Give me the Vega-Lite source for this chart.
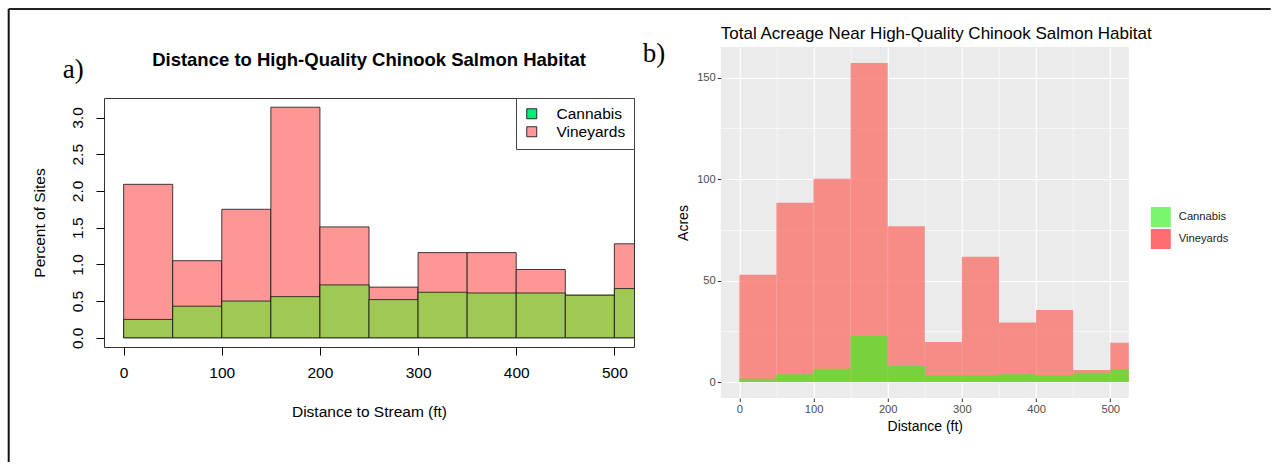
{
  "$schema": "https://vega.github.io/schema/vega-lite/v6.json",
  "background": "white",
  "padding": {"left": 7, "top": 7, "right": 0, "bottom": 0},
  "autosize": {"type": "pad"},
  "bounds": "flush",
  "center": true,
  "align": "each",
  "spacing": 86.8,
  "config": {
    "font": "Liberation Sans",
    "axis": {"labelFont": "Liberation Sans", "titleFont": "Liberation Sans"},
    "legend": {"labelFont": "Liberation Sans"}
  },
  "resolve": {
    "scale": {"x": "independent", "y": "independent", "color": "independent"},
    "legend": {"color": "independent"}
  },
  "datasets": {
    "sites": [
      {"bin_start": 0, "bin_end": 50, "crop": "Vineyards", "percent": 2.09},
      {"bin_start": 50, "bin_end": 100, "crop": "Vineyards", "percent": 1.05},
      {"bin_start": 100, "bin_end": 150, "crop": "Vineyards", "percent": 1.75},
      {"bin_start": 150, "bin_end": 200, "crop": "Vineyards", "percent": 3.14},
      {"bin_start": 200, "bin_end": 250, "crop": "Vineyards", "percent": 1.51},
      {"bin_start": 250, "bin_end": 300, "crop": "Vineyards", "percent": 0.69},
      {"bin_start": 300, "bin_end": 350, "crop": "Vineyards", "percent": 1.16},
      {"bin_start": 350, "bin_end": 400, "crop": "Vineyards", "percent": 1.16},
      {"bin_start": 400, "bin_end": 450, "crop": "Vineyards", "percent": 0.93},
      {"bin_start": 450, "bin_end": 500, "crop": "Vineyards", "percent": 0.58},
      {"bin_start": 500, "bin_end": 550, "crop": "Vineyards", "percent": 1.28},
      {"bin_start": 0, "bin_end": 50, "crop": "Cannabis", "percent": 0.25},
      {"bin_start": 50, "bin_end": 100, "crop": "Cannabis", "percent": 0.43},
      {"bin_start": 100, "bin_end": 150, "crop": "Cannabis", "percent": 0.5},
      {"bin_start": 150, "bin_end": 200, "crop": "Cannabis", "percent": 0.56},
      {"bin_start": 200, "bin_end": 250, "crop": "Cannabis", "percent": 0.72},
      {"bin_start": 250, "bin_end": 300, "crop": "Cannabis", "percent": 0.52},
      {"bin_start": 300, "bin_end": 350, "crop": "Cannabis", "percent": 0.62},
      {"bin_start": 350, "bin_end": 400, "crop": "Cannabis", "percent": 0.61},
      {"bin_start": 400, "bin_end": 450, "crop": "Cannabis", "percent": 0.61},
      {"bin_start": 450, "bin_end": 500, "crop": "Cannabis", "percent": 0.58},
      {"bin_start": 500, "bin_end": 550, "crop": "Cannabis", "percent": 0.67}
    ],
    "acres": [
      {"bin_start": 0, "bin_end": 50, "crop": "Vineyards", "acres": 52.9},
      {"bin_start": 50, "bin_end": 100, "crop": "Vineyards", "acres": 88.4},
      {"bin_start": 100, "bin_end": 150, "crop": "Vineyards", "acres": 100.2},
      {"bin_start": 150, "bin_end": 200, "crop": "Vineyards", "acres": 157.3},
      {"bin_start": 200, "bin_end": 250, "crop": "Vineyards", "acres": 76.8},
      {"bin_start": 250, "bin_end": 300, "crop": "Vineyards", "acres": 19.7},
      {"bin_start": 300, "bin_end": 350, "crop": "Vineyards", "acres": 61.8},
      {"bin_start": 350, "bin_end": 400, "crop": "Vineyards", "acres": 29.3},
      {"bin_start": 400, "bin_end": 450, "crop": "Vineyards", "acres": 35.5},
      {"bin_start": 450, "bin_end": 500, "crop": "Vineyards", "acres": 5.9},
      {"bin_start": 500, "bin_end": 550, "crop": "Vineyards", "acres": 19.4},
      {"bin_start": 0, "bin_end": 50, "crop": "Cannabis", "acres": 1.6},
      {"bin_start": 50, "bin_end": 100, "crop": "Cannabis", "acres": 3.8},
      {"bin_start": 100, "bin_end": 150, "crop": "Cannabis", "acres": 6.6},
      {"bin_start": 150, "bin_end": 200, "crop": "Cannabis", "acres": 22.7},
      {"bin_start": 200, "bin_end": 250, "crop": "Cannabis", "acres": 7.9},
      {"bin_start": 250, "bin_end": 300, "crop": "Cannabis", "acres": 3.3},
      {"bin_start": 300, "bin_end": 350, "crop": "Cannabis", "acres": 3.3},
      {"bin_start": 350, "bin_end": 400, "crop": "Cannabis", "acres": 3.8},
      {"bin_start": 400, "bin_end": 450, "crop": "Cannabis", "acres": 3.3},
      {"bin_start": 450, "bin_end": 500, "crop": "Cannabis", "acres": 4.6},
      {"bin_start": 500, "bin_end": 550, "crop": "Cannabis", "acres": 6.3}
    ]
  },
  "hconcat": [
    {
      "width": 530,
      "height": 249,
      "view": {"stroke": "#333333", "strokeWidth": 1, "fill": "white"},
      "data": {"name": "sites"},
      "layer": [
        {
          "transform": [{"filter": "datum.crop === 'Vineyards'"}],
          "mark": {"type": "rect", "fill": "#FF9696", "stroke": "#111111", "strokeWidth": 0.8, "clip": true},
          "encoding": {
            "x": {"field": "bin_start", "type": "quantitative",
              "scale": {"domain": [-20, 520], "nice": false, "zero": false},
              "axis": {"title": "Distance to Stream (ft)", "values": [0, 100, 200, 300, 400, 500], "domain": false, "grid": false,
                "tickSize": 8, "tickColor": "black", "tickWidth": 1, "labelFontSize": 15.5, "labelColor": "black", "labelPadding": 10,
                "labelFlush": false, "labelOverlap": false, "titleFontSize": 15.5, "titleFontWeight": "normal", "titleColor": "black", "titlePadding": 24}},
            "x2": {"field": "bin_end"},
            "y": {"field": "percent", "type": "quantitative",
              "scale": {"domain": [-0.1256, 3.2656], "nice": false, "zero": false},
              "axis": {"title": "Percent of Sites", "values": [0, 0.5, 1, 1.5, 2, 2.5, 3], "format": ".1f", "domain": false, "grid": false,
                "tickSize": 8, "tickColor": "black", "tickWidth": 1, "labelAngle": 270, "labelAlign": "center", "labelBaseline": "bottom",
                "labelFontSize": 15.5, "labelColor": "black", "labelPadding": 11, "labelFlush": false, "labelOverlap": false,
                "titleFontSize": 15.5, "titleFontWeight": "normal", "titleColor": "black", "titlePadding": 23}},
            "y2": {"datum": 0}
          }
        },
        {
          "transform": [{"filter": "datum.crop === 'Cannabis'"}],
          "mark": {"type": "rect", "fill": "#A0C855", "stroke": "#111111", "strokeWidth": 0.8, "clip": true},
          "encoding": {
            "x": {"field": "bin_start", "type": "quantitative"},
            "x2": {"field": "bin_end"},
            "y": {"field": "percent", "type": "quantitative"},
            "y2": {"datum": 0}
          }
        },
        {
          "mark": {"type": "square", "opacity": 0},
          "encoding": {
            "x": {"field": "bin_start", "type": "quantitative"},
            "y": {"field": "percent", "type": "quantitative"},
            "color": {"field": "crop", "type": "nominal",
              "scale": {"domain": ["Cannabis", "Vineyards"], "range": ["#00EE76", "#FF9999"]},
              "legend": {"orient": "top-right", "offset": 0, "title": null, "strokeColor": "#444444", "fillColor": "white",
                "padding": 8, "symbolType": "square", "symbolSize": 100, "symbolStrokeColor": "black", "symbolStrokeWidth": 0.8,
                "labelFontSize": 15.5, "labelColor": "black", "labelOffset": 17, "rowPadding": 1}}
          }
        },
        {
          "data": {"values": [{}]},
          "mark": {"type": "rule", "stroke": "#222222", "strokeWidth": 2},
          "encoding": {
            "x": {"datum": -117.1, "type": "quantitative"},
            "x2": {"datum": 1168.7},
            "y": {"datum": 4.4776, "type": "quantitative"}
          }
        },
        {
          "data": {"values": [{}]},
          "mark": {"type": "rule", "stroke": "#111111", "strokeWidth": 2},
          "encoding": {
            "x": {"datum": -117.1, "type": "quantitative"},
            "y": {"datum": 4.4776, "type": "quantitative"},
            "y2": {"datum": -1.6915}
          }
        },
        {
          "data": {"values": [{}]},
          "mark": {"type": "text", "text": "a)", "font": "Liberation Serif", "fontSize": 27, "align": "left", "baseline": "alphabetic", "color": "black"},
          "encoding": {
            "x": {"datum": -62.08, "type": "quantitative"},
            "y": {"datum": 3.538, "type": "quantitative"}
          }
        },
        {
          "data": {"values": [{}]},
          "mark": {"type": "text", "text": "Distance to High-Quality Chinook Salmon Habitat", "fontSize": 18.5, "fontWeight": "bold", "align": "center", "baseline": "alphabetic", "color": "black"},
          "encoding": {
            "x": {"datum": 250, "type": "quantitative"},
            "y": {"datum": 3.6973, "type": "quantitative"}
          }
        }
      ]
    },
    {
      "width": 408,
      "height": 351,
      "view": {"stroke": null, "fill": "#EBEBEB"},
      "data": {"name": "acres"},
      "layer": [
        {
          "transform": [{"filter": "datum.crop === 'Vineyards'"}],
          "mark": {"type": "rect", "fill": "#F8766D", "opacity": 0.8, "clip": true},
          "encoding": {
            "x": {"field": "bin_start", "type": "quantitative",
              "scale": {"domain": [-25, 525], "nice": false, "zero": false},
              "axis": {"title": "Distance (ft)", "values": [0, 50, 100, 150, 200, 250, 300, 350, 400, 450, 500], "domain": false,
                "grid": true, "gridColor": "white",
                "gridWidth": {"condition": {"test": "datum.value % 100 === 0", "value": 1.2}, "value": 0.6},
                "tickColor": "#333333", "tickSize": 3.5, "tickWidth": 1,
                "tickOpacity": {"condition": {"test": "datum.value % 100 === 0", "value": 1}, "value": 0},
                "labelExpr": "datum.value % 100 === 0 ? datum.label : ''",
                "labelColor": "#4D4D4D", "labelFontSize": 11.2, "labelPadding": 2, "labelFlush": false, "labelOverlap": false,
                "titleFontSize": 14, "titleFontWeight": "normal", "titleColor": "black", "titlePadding": 5}},
            "x2": {"field": "bin_end"},
            "y": {"field": "acres", "type": "quantitative",
              "scale": {"domain": [-7.865, 165.165], "nice": false, "zero": false},
              "axis": {"title": "Acres", "values": [0, 25, 50, 75, 100, 125, 150], "domain": false,
                "grid": true, "gridColor": "white",
                "gridWidth": {"condition": {"test": "datum.value % 50 === 0", "value": 1.2}, "value": 0.6},
                "tickColor": "#333333", "tickSize": 3.5, "tickWidth": 1,
                "tickOpacity": {"condition": {"test": "datum.value % 50 === 0", "value": 1}, "value": 0},
                "labelExpr": "datum.value % 50 === 0 ? datum.label : ''",
                "labelColor": "#4D4D4D", "labelFontSize": 11.2, "labelPadding": 2, "labelFlush": false, "labelOverlap": false,
                "titleFontSize": 14, "titleFontWeight": "normal", "titleColor": "black", "titlePadding": 6}},
            "y2": {"datum": 0}
          }
        },
        {
          "transform": [{"filter": "datum.crop === 'Cannabis'"}],
          "mark": {"type": "rect", "fill": "#59E32A", "opacity": 0.8, "clip": true},
          "encoding": {
            "x": {"field": "bin_start", "type": "quantitative"},
            "x2": {"field": "bin_end"},
            "y": {"field": "acres", "type": "quantitative"},
            "y2": {"datum": 0}
          }
        },
        {
          "mark": {"type": "square", "opacity": 0},
          "encoding": {
            "x": {"field": "bin_start", "type": "quantitative"},
            "y": {"field": "acres", "type": "quantitative"},
            "color": {"field": "crop", "type": "nominal",
              "scale": {"domain": ["Cannabis", "Vineyards"], "range": ["#7AF56E", "#FF6E6E"]},
              "legend": {"orient": "none", "legendX": 430, "legendY": 160, "title": null, "padding": 0,
                "symbolType": "square", "symbolSize": 400, "symbolStrokeWidth": 0,
                "labelFontSize": 11.2, "labelColor": "#1A1A1A", "labelOffset": 8, "rowPadding": 2}}
          }
        },
        {
          "data": {"values": [{}]},
          "mark": {"type": "text", "text": "b)", "font": "Liberation Serif", "fontSize": 27, "align": "left", "baseline": "alphabetic", "color": "black"},
          "encoding": {
            "x": {"datum": -130.3, "type": "quantitative"},
            "y": {"datum": 157.77, "type": "quantitative"}
          }
        },
        {
          "data": {"values": [{}]},
          "mark": {"type": "text", "text": "Total Acreage Near High-Quality Chinook Salmon Habitat", "fontSize": 17, "align": "left", "baseline": "alphabetic", "color": "black"},
          "encoding": {
            "x": {"datum": -25, "type": "quantitative"},
            "y": {"datum": 169.11, "type": "quantitative"}
          }
        }
      ]
    }
  ]
}
